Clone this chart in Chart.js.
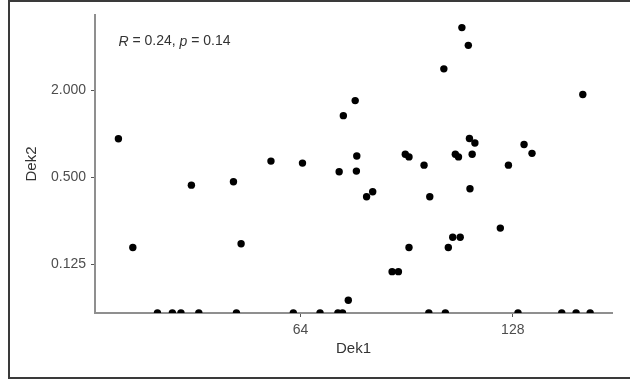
<!DOCTYPE html>
<html>
<head>
<meta charset="utf-8">
<script src="https://cdn.jsdelivr.net/npm/chart.js@4"></script>
<style>
  html, body { margin: 0; padding: 0; background: #fff; }
  #wrap { position: relative; width: 630px; height: 388px; overflow: hidden; }
  #chart { position: absolute; left: 0; top: 0; }
  /* frame of the exported figure */
  #frame { position: absolute; left: 8px; top: 0; width: 640px; height: 379px;
           box-sizing: border-box; border: 2px solid #3a3a3a; pointer-events: none; }
</style>
</head>
<body>
<div id="wrap">
  <canvas id="chart" width="630" height="388"></canvas>
  <div id="frame"></div>
</div>
<script>
// Dek1 / Dek2 pairs (both axes log2)
const DEK1 = [35.3, 37.0, 44.8, 51.4, 52.7, 58.1, 64.4, 72.6, 73.6, 76.5,
              76.9, 76.8, 74.8, 79.4, 81.0, 86.3, 88.1, 90.1, 91.2, 91.2,
              95.8, 97.6, 102.2, 103.7, 105.2, 107.8, 106.1, 107.2, 108.4, 110.7,
              111.1, 113.1, 112.1, 111.3, 122.9, 126.2, 132.8, 136.3, 160.9];
const DEK2 = [0.92, 0.163, 0.44, 0.464, 0.173, 0.645, 0.625, 0.544, 1.33, 1.69,
              0.70, 0.55, 0.0705, 0.366, 0.396, 0.111, 0.111, 0.72, 0.69, 0.163,
              0.605, 0.366, 2.80, 0.163, 0.192, 0.192, 0.72, 0.69, 5.4, 4.07,
              0.925, 0.86, 0.72, 0.415, 0.222, 0.605, 0.84, 0.73, 1.86];
// samples with Dek2 = 0 (cannot sit on a log axis, shown on its lower limit)
const ZERO_DEK1 = [40.1, 42.1, 43.3, 45.9, 51.9, 62.5, 68.2, 72.3, 73.4, 97.3,
                   102.7, 130.2, 150.2, 157.4, 164.8];

const X_TICKS = [64, 128];
const Y_TICKS = [0.125, 0.5, 2];
const X_RANGE = [32.7, 177];
const Y_RANGE = [0.0575, 6.6];

const STAT_R = '0.24';
const STAT_P = '0.14';
const LABEL_Y = 4.32; // label placed at min(Dek1), near the top

const FONT_FAMILY = '"Liberation Sans", Arial, sans-serif';
const AXIS_GREY = '#8f8f8f';
const TEXT_GREY = '#4d4d4d';

// ggpubr-style correlation label: R and p in italics
const corLabel = {
    id: 'corLabel',
    afterDatasetsDraw(chart) {
        const { ctx, scales: { x, y } } = chart;
        let px = x.getPixelForValue(Math.min(...DEK1));
        const py = y.getPixelForValue(LABEL_Y);
        const parts = [['R', true], [' = ' + STAT_R + ', ', false], ['p', true], [' = ' + STAT_P, false]];
        ctx.save();
        ctx.fillStyle = '#333';
        ctx.textBaseline = 'middle';
        for (const [text, italic] of parts) {
            ctx.font = (italic ? 'italic ' : '') + '14px ' + FONT_FAMILY;
            ctx.fillText(text, px, py);
            px += ctx.measureText(text).width;
        }
        ctx.restore();
    }
};

function axis(ticks, range, fmt, title, fit) {
    return {
        type: 'logarithmic',
        min: range[0],
        max: range[1],
        afterBuildTicks: s => { s.ticks = ticks.map(v => ({ value: v })); },
        afterFit: fit,
        border: { display: true, color: AXIS_GREY, width: 2 },
        grid: { drawOnChartArea: false, drawTicks: true, tickLength: 4, tickColor: '#555' },
        ticks: {
            color: TEXT_GREY, padding: 5, autoSkip: false, maxRotation: 0,
            font: { family: FONT_FAMILY, size: 14 },
            callback: fmt,
        },
        title: title,
    };
}

new Chart(document.getElementById('chart'), {
    type: 'scatter',
    data: {
        datasets: [
            {
                data: DEK1.map((v, i) => ({ x: v, y: DEK2[i] })),
                backgroundColor: '#000', borderColor: '#000',
                pointRadius: 3.7, borderWidth: 0,
            },
            {
                data: ZERO_DEK1.map(v => ({ x: v, y: Y_RANGE[0] })),
                backgroundColor: '#000', borderColor: '#000',
                pointRadius: 3.7, borderWidth: 0,
                clip: 0,
            },
        ],
    },
    options: {
        responsive: false,
        animation: false,
        layout: { padding: { top: 15, right: 18, left: 0, bottom: 0 } },
        plugins: { legend: { display: false }, tooltip: { enabled: false } },
        scales: {
            x: axis(X_TICKS, X_RANGE, v => String(v),
                { display: true, text: 'Dek1', color: '#333', font: { family: FONT_FAMILY, size: 15 },
                  padding: { top: 0, bottom: 30 } },
                s => { s.height = 75; }),
            y: axis(Y_TICKS, Y_RANGE, v => Number(v).toFixed(3),
                { display: true, text: 'Dek2', color: '#333', font: { family: FONT_FAMILY, size: 15 },
                  padding: { top: 23, bottom: 0 } },
                s => { s.width = 95; }),
        },
    },
    plugins: [corLabel],
});
</script>
</body>
</html>
